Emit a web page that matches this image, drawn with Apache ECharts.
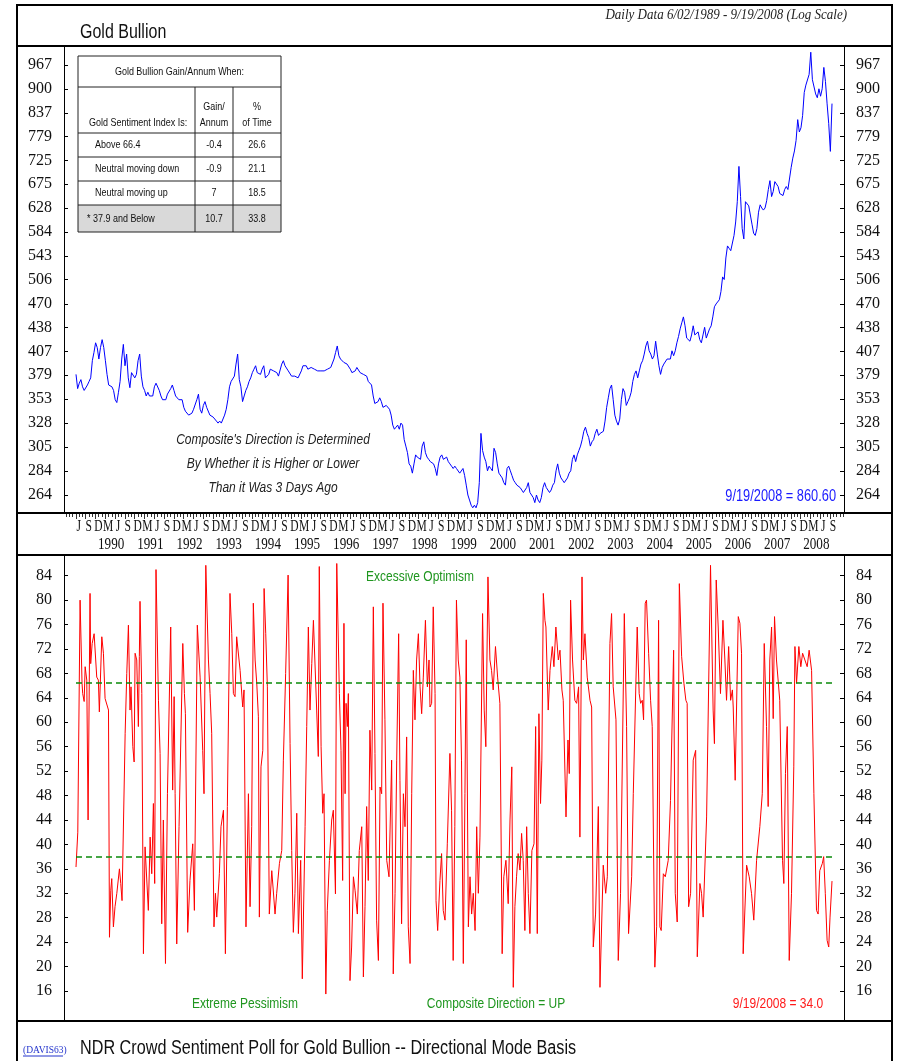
<!DOCTYPE html>
<html>
<head>
<meta charset="utf-8">
<script src="https://cdn.jsdelivr.net/npm/echarts@6/dist/echarts.min.js"></script>
<style>
  html, body { margin: 0; padding: 0; background: #fff; }
  #chart { width: 899px; height: 1061px; }
</style>
</head>
<body>
<div id="chart"></div>
<script>
// ---- data ----
// gold bullion, two readings per month, 1st half of Jun 1989 .. 9/19/2008
const goldPrice = [
  380, 364, 370, 374, 366, 362, 364, 368, 372, 376, 396, 406, 418, 412, // 1989 Jun-Dec
  398, 412, 422, 412, 396, 380, 368, 370, 366, 362, 352, 349, 360, 372, 398, 416, 390, 404, 376, 365, 382, 384, 376, 380, // 1990
  396, 404, 378, 366, 362, 356, 360, 356, 358, 356, 366, 370, 368, 362, 356, 352, 350, 352, 358, 360, 364, 368, 362, 356, // 1991
  356, 352, 354, 352, 344, 340, 338, 336, 336, 338, 342, 344, 352, 358, 342, 338, 346, 350, 344, 342, 336, 334, 334, 332, // 1992
  330, 328, 330, 328, 328, 336, 342, 352, 366, 372, 370, 378, 392, 404, 374, 366, 350, 356, 362, 366, 372, 376, 382, 386, // 1993
  390, 382, 382, 380, 386, 390, 376, 374, 380, 386, 388, 384, 384, 382, 378, 380, 392, 396, 390, 388, 384, 382, 378, 380, // 1994
  378, 376, 376, 378, 384, 390, 392, 390, 386, 384, 388, 386, 386, 384, 384, 382, 384, 384, 384, 382, 386, 386, 388, 388, // 1995
  398, 406, 414, 402, 398, 396, 394, 392, 392, 390, 386, 382, 384, 384, 388, 386, 382, 380, 380, 380, 378, 372, 370, 368, // 1996
  356, 348, 346, 350, 354, 350, 344, 342, 346, 344, 342, 336, 326, 322, 324, 326, 322, 328, 326, 312, 306, 300, 290, 288, // 1997
  282, 290, 298, 296, 296, 294, 306, 310, 300, 296, 294, 292, 292, 290, 286, 280, 290, 296, 298, 294, 294, 296, 292, 290, // 1998
  288, 286, 288, 286, 285, 282, 282, 286, 280, 272, 264, 260, 256, 254, 256, 254, 258, 274, 318, 302, 296, 292, 284, 288, // 1999
  286, 284, 304, 300, 290, 282, 282, 278, 274, 272, 286, 288, 284, 280, 276, 274, 272, 272, 270, 268, 266, 266, 270, 274, // 2000
  266, 264, 262, 258, 264, 260, 258, 262, 270, 274, 270, 270, 266, 268, 272, 274, 284, 290, 282, 278, 276, 274, 274, 278, // 2001
  282, 284, 294, 298, 292, 298, 302, 306, 312, 320, 324, 318, 314, 306, 310, 312, 318, 322, 316, 318, 318, 320, 330, 344, // 2002
  354, 364, 368, 352, 336, 330, 326, 332, 352, 364, 360, 346, 350, 354, 360, 372, 380, 384, 376, 384, 392, 396, 404, 414, // 2003
  420, 408, 404, 398, 402, 420, 404, 390, 380, 388, 392, 394, 398, 396, 398, 408, 402, 408, 418, 426, 436, 444, 452, 440, // 2004
  424, 422, 420, 428, 440, 428, 428, 432, 422, 418, 428, 438, 424, 424, 436, 440, 452, 466, 470, 470, 476, 488, 510, 506, // 2005
  540, 560, 556, 552, 552, 578, 602, 640, 712, 650, 590, 572, 640, 640, 632, 630, 598, 582, 578, 590, 620, 634, 628, 624, // 2006
  628, 642, 664, 682, 650, 660, 680, 684, 670, 656, 654, 652, 664, 670, 664, 662, 710, 730, 746, 770, 820, 790, 800, 830, // 2007
  890, 910, 910, 940, 1005, 925, 920, 886, 876, 900, 880, 900, 960, 920, 860, 810, 745, 860.6 // 2008 Jan-Sep
];

// crowd sentiment poll: [half-months after 6/02/1989, reading]
const sentimentPoll = [
  [0,36.3],[1.1,42],[2.5,80],[3.7,66.4],[4.1,64.7],[5,63.4],[5.6,69.1],[6.6,66.9],[7.4,44],[8.6,81.1],[9,69.6],[9.9,72.9],
  [11.1,74.5],[12.7,67.4],[13.7,66.9],[14.3,61.7],[15.8,74],[16.8,71.3],[17.8,63.9],[18.8,63.6],[19.9,62],[20.5,24.8],
  [21.3,32.5],[21.9,34.4],[22.9,26.5],[23.9,29.8],[25,32],[26.6,36],[27.4,33.6],[28.2,30.8],[30.1,58.2],[31.1,68],[32.1,75.9],
  [33.1,62],[33.7,65.8],[34.8,56],[35.6,53.5],[36.2,71.3],[37.2,70.2],[38.2,59.3],[38.8,70.8],[39.2,79.8],[40.3,64.7],[41.3,22.1],
  [42.3,39.6],[43.3,39.6],[44.3,29.2],[45.4,41.2],[46.4,35.2],[47.4,46.7],[48.2,33.6],[49,85],[50.5,63.6],[51.5,54.9],[52.5,27],
  [53.5,44],[54.8,20.5],[56,48.3],[58,75.6],[59.2,48.9],[60.1,64.2],[60.7,48.3],[61.7,23.7],[63.1,42.9],[65.4,72.9],[66.4,64.7],
  [67,61.4],[68.4,25.6],[69.8,34.1],[71.5,40.1],[72.5,29.2],[74.3,75.9],[76,67.4],[77.6,55.4],[78.4,48.3],[79.5,85.7],[81.1,70.2],
  [82.1,64.7],[83.1,58.2],[84.5,26.5],[85.4,32],[86.2,28.1],[87.8,35.2],[88.8,42.9],[90.3,45.6],[91.5,22.1],[92.7,46.2],[94.3,81.1],
  [95.4,74.5],[96.4,64.7],[97.4,64.2],[98.4,74],[100.5,68.5],[102.1,62.5],[102.9,65.3],[104.1,26.5],[105.6,48.3],[106.6,29.8],
  [107.6,42.9],[108.6,79.5],[109.7,70.2],[110.7,66.4],[111.7,60.9],[112.3,28.1],[113.3,52.7],[114.4,55.4],[115.2,81.9],[116.2,74.5],
  [117.2,65.8],[118.4,28.6],[119.9,35.7],[121.9,28.6],[122.9,32],[124.6,36.9],[126,39],[127,53.8],[128.4,68],[129.9,84.1],
  [131.1,56.5],[132.1,39],[133.1,25.6],[134.1,32],[135.2,45.1],[136.2,25.4],[137.6,37.4],[138.6,18],[140.3,42.9],[141.3,59.3],
  [142.3,75.6],[143.3,62],[144.4,69.6],[145.4,76.7],[147.4,62],[148.4,54.4],[149,85.5],[150.1,56],[151.1,45.1],[151.9,48.3],
  [153,15.5],[153.9,29.2],[155.2,37.4],[156.6,44],[157.6,45.6],[158.9,31.9],[159.7,86],[161.3,64.7],[162.3,55.4],[163.3,34.1],
  [164.1,76.2],[164.8,48.3],[165.4,63.1],[166.2,59.3],[166.8,64.7],[167.8,17.7],[168.8,23.2],[169.9,34.7],[170.9,32.5],[172.3,28.6],
  [173.5,39],[175,42.9],[176,18.3],[177,29.8],[178,46.2],[179,34.1],[180,58.7],[181.1,48.9],[182.1,78.9],[183.1,54.9],[184.1,27.6],
  [185.2,21],[186.2,49.4],[187.2,48.3],[188,79.5],[189.2,60.4],[190.3,37.4],[191.7,34.7],[193.3,53.8],[194.3,18.8],[195.4,32],
  [196.4,53.8],[197.6,74.5],[198.4,50.5],[199.4,27],[200.5,48.3],[201.5,42.9],[202.5,57.6],[203.5,26.5],[204.6,20.5],[205.6,48.3],
  [206.6,68.5],[207.6,60.4],[208.6,70.2],[209.7,74.5],[210.7,65.8],[211.7,61.4],[212.7,67.4],[214,76.7],[215.2,65.8],[216.2,70.2],
  [216.8,62.5],[217.8,63.1],[218.8,78.9],[219.9,64.7],[220.5,30.8],[221.5,25.9],[222.9,34.1],[223.9,38.5],[224.9,29.2],[226,27.6],
  [227.4,40.1],[229,54.9],[230,45.6],[231,21],[232,42.9],[233,80],[234.1,70.2],[235.1,67.4],[236.1,53.8],[237.2,20.5],[238.2,48.3],
  [239,73.5],[240.3,26.5],[241.3,34.7],[242.3,28.6],[243.3,32],[244.4,25.9],[245.4,42.9],[246.4,32],[247.4,41.2],[249,77.8],
  [250,62],[251,56],[252.3,83.8],[253.5,70.2],[254.5,68.5],[255.5,65.3],[256.9,72.4],[258.2,67.4],[259.6,63.1],[261,22.1],
  [262,34.7],[263.3,37.4],[264.7,30.3],[265.8,44],[266.9,52.7],[267.8,16.6],[268.8,29.8],[269.8,34.7],[270.8,38.5],[271.9,35.8],
  [272.9,41.8],[273.9,37.4],[274.9,25.9],[276,42.9],[277,32],[278,25.4],[279.2,39],[280.5,40.1],[281.5,59.3],[282.5,25.4],
  [283.5,61.4],[284.5,46.7],[285.3,53.8],[286.2,81.1],[287.2,76.7],[287.8,75.6],[289.2,62],[290.3,68.5],[291.7,72.4],[292.7,69.1],
  [293.9,75.6],[295.4,70.2],[296.4,71.8],[297.6,65.3],[298.4,63.6],[300.1,44.5],[301.3,57.1],[302.1,51.6],[302.9,80],[304.1,70.2],
  [305.5,63.6],[306.6,63.1],[307.8,65.8],[308.6,41.2],[309.9,83.8],[310.7,70.2],[311.7,74.5],[313.1,67.4],[314.8,63.6],[315.8,62.5],
  [316.8,23.2],[318.2,28.6],[319.9,46.2],[320.9,16.6],[322.9,36.6],[324.4,32],[325.4,34.7],[327,72.9],[328,77.8],[329,65.8],
  [330.7,60.4],[332.1,21],[333.5,32],[335.8,77.8],[337.2,59.3],[338.4,25.4],[340.3,34.7],[341.3,48.3],[343.7,75.6],[344.9,64.7],
  [345.8,63.1],[346.8,63.6],[347.6,60.4],[348.6,79.5],[349.4,80],[350.7,71.3],[351.9,63.6],[352.9,59.3],[354.5,19.9],[355.6,26.5],
  [356.8,76.7],[357.6,26.5],[358.4,25.9],[359.7,35.2],[360.9,34.7],[362.7,37.4],[364.1,47.2],[364.8,47.2],[366,71.8],[367,32],
  [368.2,27.3],[369.5,82.7],[370.9,70.8],[372.3,66.4],[373.5,63.6],[374.3,63.1],[375.2,29.8],[376.4,32],[378,53.8],[379.5,55.4],
  [380.5,21.6],[382.1,33.6],[383.1,32],[384.1,28.1],[386.2,44.5],[388.6,85.7],[390.2,62],[391,56.5],[392.1,83.3],[393.3,75.6],
  [394.7,64.7],[396.2,76.7],[397.4,70.2],[398.4,63.6],[399.7,72.4],[400.9,63.6],[402,65.3],[402.5,62.5],[403.7,50.5],[405.6,77.3],
  [406.6,76.2],[407.6,71.3],[408.6,22.1],[410.7,36.6],[412.3,34.7],[413.7,32],[415.1,27.6],[416.8,37.4],[418.8,42.9],[420.3,48.3],
  [421.5,72.9],[422.9,59.3],[423.9,46.2],[424.9,70.2],[426,75.6],[427,60.6],[427.8,77.3],[429,70.2],[431,63.6],[432.7,37.4],
  [433.5,33.6],[434.5,51.6],[435.6,59.3],[436.8,21],[438.2,32],[439.6,52.7],[440.3,72.4],[441.3,66.4],[442.7,72.4],[443.9,69.1],
  [445,71.3],[446.4,70.2],[447.8,69.1],[449,71.8],[450.5,68.5],[451.9,48.3],[453.5,29.2],[454.5,28.6],[455.5,35.7],[457.1,36.9],
  [457.9,38],[458.9,32],[460,24.3],[461,23.2],[461.8,28.1],[463,34]
];

const priceTicks = [264, 284, 305, 328, 353, 379, 407, 438, 470, 506, 543, 584, 628, 675, 725, 779, 837, 900, 967];
const sentimentTicks = [16, 20, 24, 28, 32, 36, 40, 44, 48, 52, 56, 60, 64, 68, 72, 76, 80, 84];
const thresholds = [66.4, 37.9];
const monthLetters = ['J', 'F', 'M', 'A', 'M', 'J', 'J', 'A', 'S', 'O', 'N', 'D'];
const yearLabels = [1990, 1991, 1992, 1993, 1994, 1995, 1996, 1997, 1998, 1999, 2000, 2001, 2002, 2003, 2004, 2005, 2006, 2007, 2008];

const tableTitle = 'Gold Bullion Gain/Annum When:';
const tableHead = ['Gold Sentiment Index Is:', 'Gain/\nAnnum', '%\nof Time'];
const tableRows = [
  ['Above 66.4', '-0.4', '26.6'],
  ['Neutral moving down', '-0.9', '21.1'],
  ['Neutral moving up', '7', '18.5'],
  ['* 37.9 and Below', '10.7', '33.8']
];

// ---- layout ----
const W = 899;
const PLOT_L = 64, PLOT_R = 844;
const FRAME_L = 17, FRAME_R = 892;
const TOP_Y = 47, TOP_H = 466;
const BOT_Y = 555, BOT_H = 466;

const SANS = '"Liberation Sans", Arial, sans-serif';
const SERIF = '"Liberation Serif", "Times New Roman", serif';
const NARROW = 0.8;   // the original uses condensed faces
const GREEN = '#1f961f';

// months since Jan 1989
const START_M = 5 + 1 / 30;    // 6/02/1989
const END_M = 236 + 18 / 30;   // 9/19/2008
const pxPerMonth = (832 - 76) / (END_M - START_M);
const X_MIN = START_M - (76 - PLOT_L) / pxPerMonth;
const X_MAX = END_M + (PLOT_R - 832) / pxPerMonth;
const halfToMonth = h => START_M + h * (END_M - START_M) / 463;

// price axis in ln units, 967 sits 18px below top, 264 18px above bottom
const lnLo = Math.log(264), lnHi = Math.log(967);
const lnPad = 18 * (lnHi - lnLo) / (TOP_H - 36);
// sentiment: 84 at y 575.7, 16 at y 991
const sPx = (991 - 575.7) / 68;
const S_MAX = 84 + (575.7 - BOT_Y) / sPx;
const S_MIN = 16 - (BOT_Y + BOT_H - 991) / sPx;

const goldData = goldPrice.map((p, i) => [halfToMonth(i), Math.log(p)]);
const sentData = sentimentPoll.map(d => [halfToMonth(d[0]), d[1]]);

const monthTicks = [];
for (let m = 2; m <= 240; m++) monthTicks.push(m);
const quarterTicks = [];
for (let m = 5; m <= 236; m += 3) quarterTicks.push(m);

const priceLabel = v => {
  let best = priceTicks[0];
  priceTicks.forEach(t => { if (Math.abs(Math.log(t) - v) < Math.abs(Math.log(best) - v)) best = t; });
  return String(best);
};

function yAxisCommon(grid, pos, isPrice) {
  const vals = isPrice ? priceTicks.map(t => Math.log(t)) : sentimentTicks;
  return {
    type: 'value', gridIndex: grid, position: pos,
    min: isPrice ? lnLo - lnPad : S_MIN,
    max: isPrice ? lnHi + lnPad : S_MAX,
    axisLine: { show: true, lineStyle: { color: '#000', width: 1 } },
    axisTick: { show: true, inside: true, length: 4, customValues: vals, lineStyle: { color: '#000' } },
    axisLabel: {
      show: true, customValues: vals, margin: 12,
      color: '#111', fontFamily: SERIF, fontSize: 16,
      formatter: isPrice ? priceLabel : (v => String(Math.round(v)))
    },
    splitLine: { show: false }
  };
}

// ---- decoration ----
const g = [];
const hline = (y, w) => g.push({ type: 'line', shape: { x1: FRAME_L, y1: y, x2: FRAME_R, y2: y }, style: { stroke: '#000', lineWidth: w }, z: 50 });
const text = (x, y, s, font, fill, align, sx, lh) => g.push({
  type: 'text', x: x, y: y, z: 60, scaleX: sx || 1,
  style: { text: s, font: font, fill: fill || '#111', align: align || 'left', verticalAlign: 'middle', lineHeight: lh || undefined }
});

hline(5, 2);
hline(46, 2);
hline(TOP_Y + TOP_H, 2);
hline(BOT_Y, 2);
hline(BOT_Y + BOT_H, 2);
g.push({ type: 'line', shape: { x1: FRAME_L, y1: 4, x2: FRAME_L, y2: 1061 }, style: { stroke: '#000', lineWidth: 2 }, z: 50 });
g.push({ type: 'line', shape: { x1: FRAME_R, y1: 4, x2: FRAME_R, y2: 1061 }, style: { stroke: '#000', lineWidth: 2 }, z: 50 });

text(80, 32, 'Gold Bullion', '20px ' + SANS, '#111', 'left', NARROW);
text(847, 15, 'Daily Data 6/02/1989 - 9/19/2008 (Log Scale)', 'italic 14px ' + SERIF, '#222', 'right', 0.93);

// gain/annum table
const TX = [78, 195, 233, 281];
const TY = [56, 87, 133, 157, 181, 205, 232];
g.push({ type: 'rect', shape: { x: TX[0], y: TY[5], width: TX[3] - TX[0], height: TY[6] - TY[5] }, style: { fill: '#d9d9d9' }, z: 55 });
g.push({ type: 'rect', shape: { x: TX[0], y: TY[0], width: TX[3] - TX[0], height: TY[6] - TY[0] }, style: { fill: 'none', stroke: '#222', lineWidth: 1 }, z: 56 });
for (let r = 1; r < TY.length - 1; r++) {
  g.push({ type: 'line', shape: { x1: TX[0], y1: TY[r], x2: TX[3], y2: TY[r] }, style: { stroke: '#222', lineWidth: 1 }, z: 56 });
}
for (let c = 1; c < TX.length - 1; c++) {
  g.push({ type: 'line', shape: { x1: TX[c], y1: TY[1], x2: TX[c], y2: TY[6] }, style: { stroke: '#222', lineWidth: 1 }, z: 56 });
}
const TFONT = '11.5px ' + SANS;
text((TX[0] + TX[3]) / 2, (TY[0] + TY[1]) / 2, tableTitle, TFONT, '#111', 'center', 0.78);
text(89, 123, tableHead[0], TFONT, '#111', 'left', 0.78);
text((TX[1] + TX[2]) / 2, 115, tableHead[1], TFONT, '#111', 'center', 0.78, 16);
text((TX[2] + TX[3]) / 2, 115, tableHead[2], TFONT, '#111', 'center', 0.78, 16);
tableRows.forEach((row, i) => {
  const yc = (TY[i + 2] + TY[i + 3]) / 2;
  text(row[0].charAt(0) === '*' ? 87 : 95, yc, row[0], TFONT, '#111', 'left', 0.78);
  text((TX[1] + TX[2]) / 2, yc, row[1], TFONT, '#111', 'center', 0.78);
  text((TX[2] + TX[3]) / 2, yc, row[2], TFONT, '#111', 'center', 0.78);
});

// notes in the panels
const NOTE = 'italic 15px ' + SANS;
text(273, 440, "Composite's Direction is Determined", NOTE, '#222', 'center', NARROW);
text(273, 464, 'By Whether it is Higher or Lower', NOTE, '#222', 'center', NARROW);
text(273, 488, 'Than it Was 3 Days Ago', NOTE, '#222', 'center', NARROW);
text(836, 497, '9/19/2008 = ' + goldPrice[goldPrice.length - 1].toFixed(2), '16px ' + SANS, '#1a1aff', 'right', NARROW);

text(420, 577, 'Excessive Optimism', '15px ' + SANS, GREEN, 'center', NARROW);
text(245, 1004, 'Extreme Pessimism', '15px ' + SANS, GREEN, 'center', NARROW);
text(496, 1004, 'Composite Direction = UP', '15px ' + SANS, GREEN, 'center', NARROW);
text(778, 1004, '9/19/2008 = ' + sentimentPoll[sentimentPoll.length - 1][1].toFixed(1), '15px ' + SANS, '#ff1a1a', 'center', NARROW);

text(23, 1050, '(DAVIS63)', '10px ' + SERIF, '#2233cc', 'left', 0.95);
g.push({ type: 'line', shape: { x1: 23, y1: 1056, x2: 63, y2: 1056 }, style: { stroke: '#2233cc', lineWidth: 1 }, z: 60 });
text(80, 1048, 'NDR Crowd Sentiment Poll for Gold Bullion -- Directional Mode Basis', '20px ' + SANS, '#111', 'left', 0.81);

// ---- chart ----
const chart = echarts.init(document.getElementById('chart'));
chart.setOption({
  animation: false,
  backgroundColor: '#fff',
  textStyle: { fontFamily: SANS },
  grid: [
    { left: PLOT_L, right: W - PLOT_R, top: TOP_Y, height: TOP_H },
    { left: PLOT_L, right: W - PLOT_R, top: BOT_Y, height: BOT_H }
  ],
  xAxis: [
    {
      type: 'value', gridIndex: 0, min: X_MIN, max: X_MAX, position: 'bottom',
      axisLine: { show: false },
      axisTick: { show: true, length: 4, customValues: monthTicks, lineStyle: { color: '#333' } },
      axisLabel: { show: false },
      splitLine: { show: false }
    },
    {
      type: 'value', gridIndex: 0, min: X_MIN, max: X_MAX, position: 'bottom',
      axisLine: { show: false },
      axisTick: { show: true, length: 6, customValues: quarterTicks, lineStyle: { color: '#333' } },
      axisLabel: { show: false },
      splitLine: { show: false }
    },
    {
      type: 'value', gridIndex: 1, min: X_MIN, max: X_MAX,
      axisLine: { show: false }, axisTick: { show: false }, axisLabel: { show: false }, splitLine: { show: false }
    }
  ],
  yAxis: [
    yAxisCommon(0, 'left', true),
    yAxisCommon(0, 'right', true),
    yAxisCommon(1, 'left', false),
    yAxisCommon(1, 'right', false)
  ],
  series: [
    {
      name: 'Gold Bullion', type: 'line', xAxisIndex: 0, yAxisIndex: 0,
      data: goldData, showSymbol: false, symbol: 'none',
      lineStyle: { color: '#0000ff', width: 1 }
    },
    {
      name: 'Crowd Sentiment', type: 'line', xAxisIndex: 2, yAxisIndex: 2,
      data: sentData, showSymbol: false, symbol: 'none',
      lineStyle: { color: '#ff0000', width: 1 },
      markLine: {
        silent: true, symbol: 'none', label: { show: false },
        lineStyle: { color: '#0a8a0a', type: [6, 4], width: 1.5 },
        data: thresholds.map(t => [{ coord: [START_M, t] }, { coord: [END_M, t] }])
      }
    }
  ]
});

// date labels in condensed serif, placed through the x axis scale
const xPix = m => chart.convertToPixel({ xAxisIndex: 0 }, m);
quarterTicks.forEach(m => {
  text(xPix(m + 0.9), 527, monthLetters[m % 12], '16px ' + SERIF, '#111', 'center', 0.72);
});
yearLabels.forEach(y => {
  text(xPix((y - 1989) * 12 + 3.8), 545, String(y), '16px ' + SERIF, '#111', 'center', 0.82);
});

chart.setOption({ graphic: g });
</script>
</body>
</html>
